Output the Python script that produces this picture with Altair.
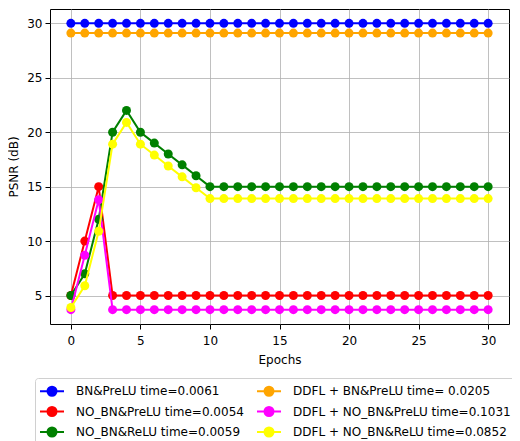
import altair as alt
import pandas as pd

epochs = list(range(31))
names = [
    "BN&PreLU time=0.0061",
    "NO_BN&PreLU time=0.0054",
    "NO_BN&ReLU time=0.0059",
    "DDFL + BN&PreLU time= 0.0205",
    "DDFL + NO_BN&PreLU time=0.1031",
    "DDFL + NO_BN&ReLU time=0.0852",
]
colors = ["#0000ff", "#ff0000", "#008000", "#ffa500", "#ff00ff", "#ffff00"]

bn_prelu = [30.0] * 31
no_bn_prelu = [5.0, 10.0, 15.0] + [5.0] * 28
no_bn_relu = [5.0, 7.0, 12.0, 20.0, 22.0, 20.0, 19.0, 18.0, 17.0, 16.0] + [15.0] * 21
ddfl_bn_prelu = [29.1] * 31
ddfl_no_bn_prelu = [3.7, 8.7, 13.8] + [3.7] * 28
ddfl_no_bn_relu = [3.9, 5.9, 10.9, 18.9, 20.9, 18.9, 17.9, 16.9, 15.9, 14.9] + [13.9] * 21

series_values = [bn_prelu, no_bn_prelu, no_bn_relu, ddfl_bn_prelu, ddfl_no_bn_prelu, ddfl_no_bn_relu]

rows = []
for n, vals in zip(names, series_values):
    for e, v in zip(epochs, vals):
        rows.append({"series": n, "epoch": e, "psnr": v})
df = pd.DataFrame(rows)

scale = alt.Scale(domain=names, range=colors)

# line from -1 to 2 (unit = 8px), filled circle centred at 0.5
sym_path = "M-1,0H2M1.0625,0A0.5625,0.5625 0 1 1 -0.0625,0A0.5625,0.5625 0 1 1 1.0625,0Z"
leg = alt.Legend(
    title=None,
    orient="none",
    legendX=-15,
    legendY=369,
    columns=2,
    symbolType=sym_path,
    symbolSize=256,
    symbolStrokeWidth=2,
    labelFontSize=12,
    labelFont="DejaVu Sans",
    labelColor="black",
    labelOffset=19,
    columnPadding=9,
    rowPadding=2.5,
    padding=4,
    strokeColor="#d0d0d0",
    fillColor="white",
    cornerRadius=3,
    labelLimit=400,
)

xs = alt.X(
    "epoch:Q",
    scale=alt.Scale(domain=[-1.5, 31.5], nice=False, zero=False),
    axis=alt.Axis(title="Epochs", values=[0, 5, 10, 15, 20, 25, 30], format="d",
                  labelPadding=6, titlePadding=8),
)
ys = alt.Y(
    "psnr:Q",
    scale=alt.Scale(domain=[2.385, 31.315], nice=False, zero=False),
    axis=alt.Axis(title="PSNR (dB)", values=[5, 10, 15, 20, 25, 30], format="d",
                  labelPadding=3, titlePadding=6),
)

layers = []
base = alt.Chart(df)
for n in names:
    sub = base.transform_filter(alt.datum.series == n)
    line = sub.mark_line(strokeWidth=2).encode(
        x=xs, y=ys,
        stroke=alt.Stroke("series:N", scale=scale, legend=leg),
    )
    pts = sub.mark_circle(size=81, opacity=1).encode(
        x=xs, y=ys,
        fill=alt.Fill("series:N", scale=scale, legend=leg),
    )
    layers += [line, pts]

chart = alt.layer(*layers).properties(
    width=459,
    height=315,
    autosize=alt.AutoSizeParams(type="none"),
    padding={"left": 42, "top": 1, "right": 3, "bottom": 117},
).configure_view(
    stroke="black", strokeWidth=1
).configure_axis(
    grid=True,
    gridColor="#b0b0b0",
    gridWidth=0.8,
    domain=False,
    tickColor="black",
    tickSize=5,
    labelFontSize=12,
    labelFont="DejaVu Sans",
    labelColor="black",
    titleFontSize=12,
    titleFont="DejaVu Sans",
    titleColor="black",
    titleFontWeight="normal",
)

chart.save("out.html", embed_options={"renderer": "svg", "actions": False})
